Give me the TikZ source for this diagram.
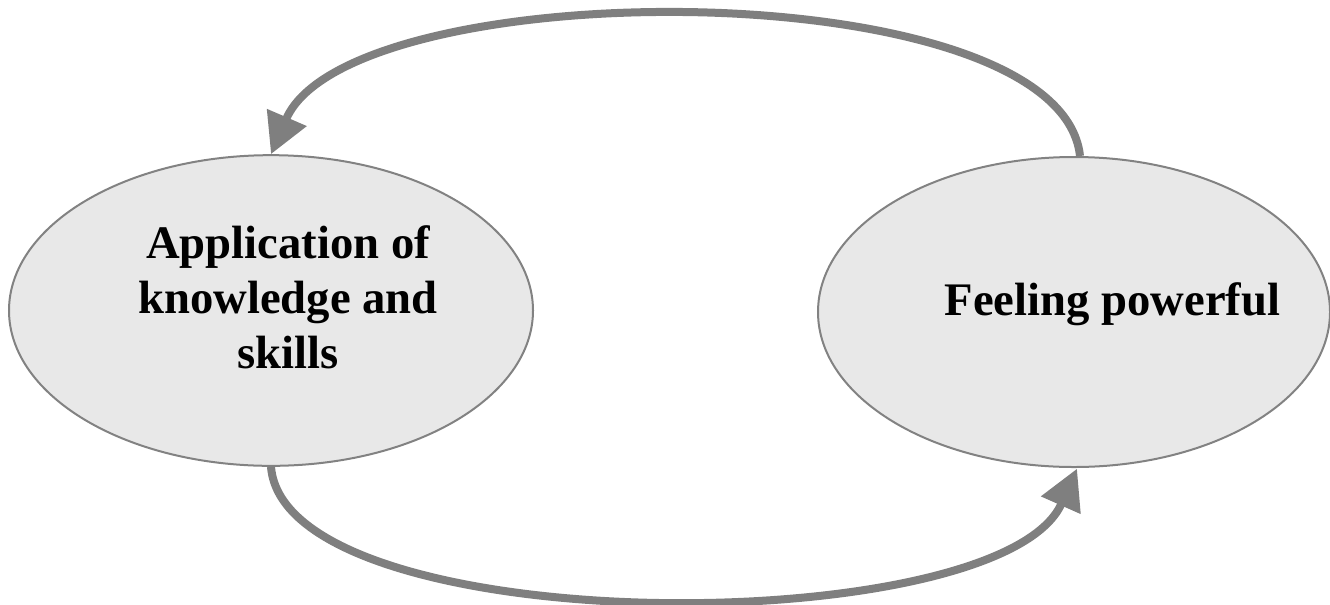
\documentclass[tikz,border=0pt]{standalone}
\usepackage{fontspec}
\setmainfont{Liberation Serif}
\usetikzlibrary{arrows.meta,shapes.geometric}
\definecolor{arcgray}{HTML}{7F7F7F}
\definecolor{ellfill}{HTML}{E8E8E8}
\definecolor{ellline}{HTML}{828282}
\tikzset{
  bubble/.style={ellipse, draw=ellline, fill=ellfill, line width=1.5pt, inner sep=0pt},
  bubbletext/.style={font=\fontsize{35}{41.25}\selectfont\bfseries, align=center, inner sep=0pt},
  cyclearrow/.style={draw=arcgray, line width=6pt, -{Triangle[length=30pt,width=31pt]}, arcgray}
}
\begin{document}
\begin{tikzpicture}[x=0.75pt,y=-0.75pt]
\useasboundingbox (0,0) rectangle (1330,604);
\node[bubble, minimum width=393pt, minimum height=233pt] (app) at (271,310.5) {};
\node[bubble, minimum width=384pt, minimum height=232.5pt] (feel) at (1074,312) {};
\node[bubbletext] (apptext) at (288,297) {Application of\\knowledge and\\skills};
\node[bubbletext, anchor=base] (feeltext) at (1112.5,315) {Feeling powerful};
\draw[cyclearrow] ([xshift=4.5pt]feel.north) .. controls (1060,-30) and (350,-29) .. (app.north);
\draw[cyclearrow] (app.south) .. controls (285,642) and (1000,642) .. ([xshift=2.25pt,yshift=-0.5pt]feel.south);
\end{tikzpicture}
\end{document}
